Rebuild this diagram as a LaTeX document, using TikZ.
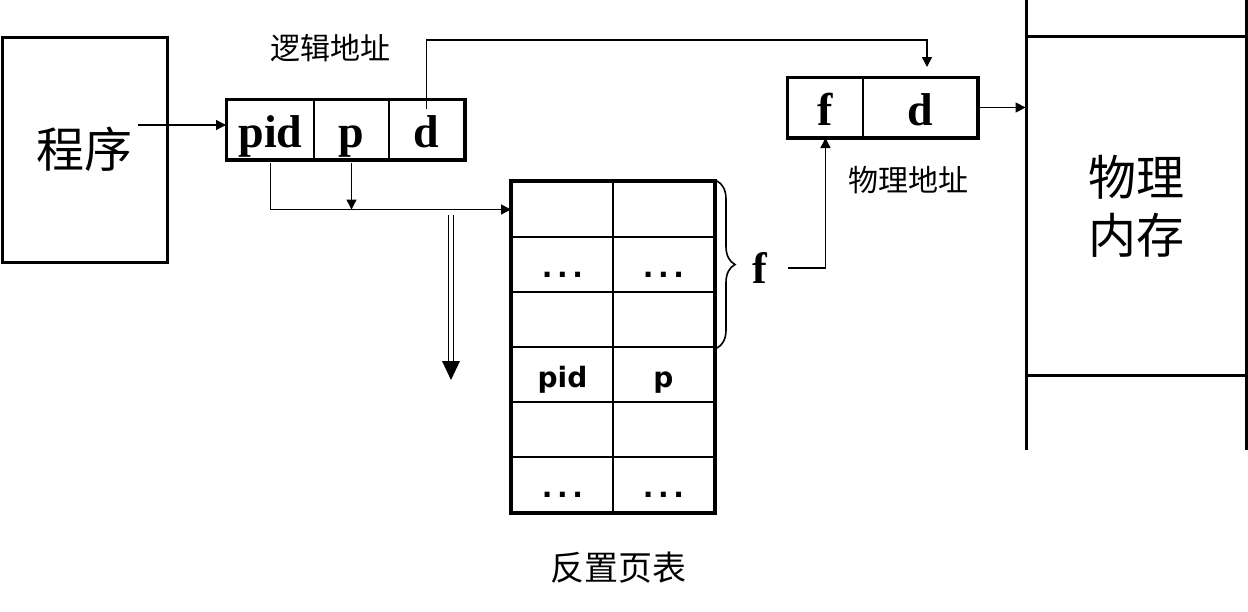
\documentclass[tikz,border=0pt]{standalone}
\usepackage{fontspec}
\setmainfont{Liberation Serif}
\newfontfamily\cjk{Noto Sans CJK SC}
\newfontfamily\tabfont{DejaVu Sans}
\usetikzlibrary{arrows.meta,decorations.pathreplacing}

\begin{document}
\begin{tikzpicture}[x=0.5pt,y=-0.5pt,
  arr/.style={line width=0.7pt,-{Triangle[length=5pt,width=5pt]}},
  cell/.style={draw,line width=1pt,inner sep=0pt,minimum height=29.5pt,text height=18pt,text depth=0pt},
  tcell/.style={draw,line width=1pt,inner sep=0pt,minimum width=50.5pt,minimum height=27.5pt,text height=12.5pt,text depth=0pt,font=\tabfont\bfseries\fontsize{14}{16}\selectfont},
  addr/.style={font=\bfseries\fontsize{23}{26}\selectfont},
  bigcjk/.style={font=\cjk\fontsize{24}{29}\selectfont,align=center},
  labcjk/.style={font=\cjk\fontsize{15}{18}\selectfont}]
\useasboundingbox (0,0) rectangle (1248,611);

\node[draw,line width=1.5pt,minimum width=82.5pt,minimum height=112.5pt,bigcjk] (prog) at (84.5,149.5) {程序};

\node[cell,minimum width=43.5pt,addr] (lpid) at (270.5,129.5) {pid};
\node[cell,minimum width=37.5pt,addr] (lp) at (351.5,129.5) {p};
\node[cell,minimum width=37.5pt,addr] (ld) at (426.5,129.5) {d};
\draw[line width=1.5pt] (lpid.north west) rectangle (ld.south east);
\node[labcjk] (laddr) at (330,48) {逻辑地址};

\foreach \r/\a/\b in {1/{}/{},2/{.\,.\,.}/{.\,.\,.},3/{}/{},4/pid/p,5/{}/{},6/{.\,.\,.}/{.\,.\,.}}{
  \node[tcell] (t\r a) at (562.5,{182+55*(\r-0.5)}) {\a};
  \node[tcell] (t\r b) at (663.5,{182+55*(\r-0.5)}) {\b};
}
\draw[line width=2pt] (t1a.north west) rectangle (t6b.south east);
\node[labcjk,font=\cjk\fontsize{17}{20}\selectfont] (ipt) at (618,568) {反置页表};

\draw[line width=0.8pt,decorate,decoration={brace,amplitude=9pt}] ([xshift=1pt]t1b.north east) -- ([xshift=1pt]t3b.south east);
\node[addr,font=\bfseries\fontsize{22}{26}\selectfont] (fl) at (760,268) {f};

\node[cell,minimum width=37.5pt,addr] (pf) at (825.5,107.5) {f};
\node[cell,minimum width=57pt,addr] (pd) at (920,107.5) {d};
\draw[line width=1.5pt] (pf.north west) rectangle (pd.south east);
\node[labcjk] (paddr) at (908,180) {物理地址};

\node[bigcjk,minimum width=110pt,minimum height=169pt] (mem) at (1136,206) {物理\\内存};
\draw[line width=1.5pt] (1026,0) -- (1026,450) (1246,0) -- (1246,450);
\draw[line width=1.2pt] (mem.north west) -- (mem.north east) (mem.south west) -- (mem.south east);

\coordinate (out) at (138,125);
\draw[arr] (out) -- (out -| lpid.west);
\draw[arr] ([yshift=-1.5pt]lpid.south) |- (t1a.west);
\draw[arr] ([yshift=-1.5pt]lp.south) -- (lp.south |- t1a.west);
\draw[arr] ([yshift=-5pt]ld.north) -- ++(0,-69) -| ([xshift=3.5pt,yshift=5pt]pd.north);
\draw[arr] ([xshift=7pt]fl.east) -| (pf.south);
\draw[arr] ([xshift=1pt]pd.east) -- (pd.east -| mem.west);

\coordinate (scan) at (451,215);
\draw[line width=0.7pt] ([xshift=-1.3pt]scan) -- ++(0,147) ([xshift=1.3pt]scan) -- ++(0,147);
\fill ([xshift=-4.5pt,yshift=-73pt]scan) -- ([xshift=4.5pt,yshift=-73pt]scan) -- ([yshift=-82.5pt]scan) -- cycle;
\end{tikzpicture}
\end{document}
